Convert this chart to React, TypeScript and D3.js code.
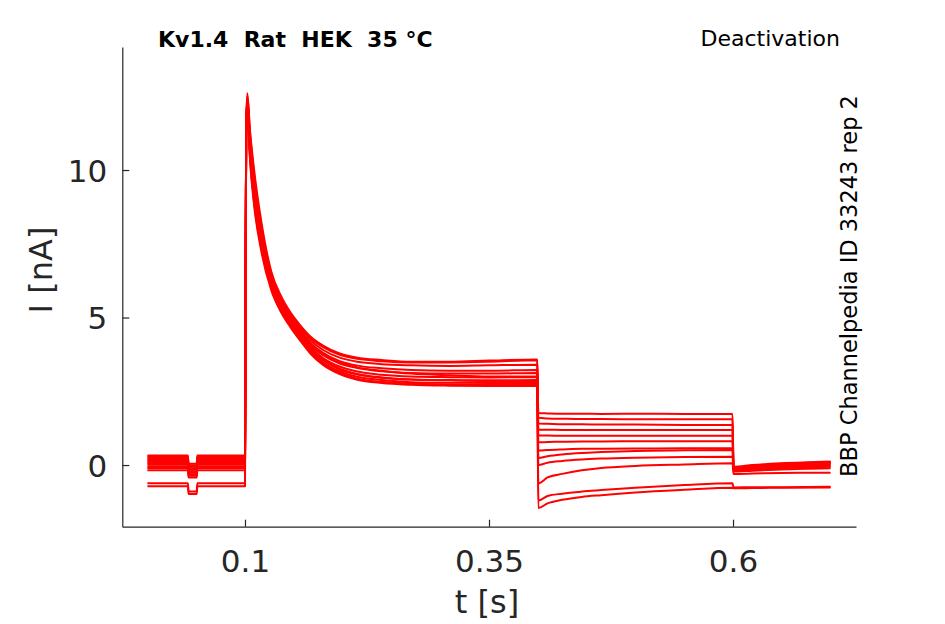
import React, { useRef, useEffect } from 'react';
import * as d3 from 'd3';

// sample times (s) for each protocol segment
const tHold = [0, 0.0415, 0.0422, 0.0505, 0.0512, 0.1];
const tStep = [0.1012, 0.1024, 0.105, 0.109, 0.117, 0.127, 0.137, 0.146, 0.157, 0.167, 0.18, 0.197, 0.215, 0.24, 0.27, 0.31, 0.35, 0.3995];
const tTail = [0.4005, 0.41, 0.425, 0.445, 0.465, 0.5, 0.55, 0.5995];
const tPost = [0.6005, 0.62, 0.65, 0.7];

// holding current before the step and during the short test dip (nA)
const holdLevel = [0.32, 0.27, 0.22, 0.17, 0.12, 0.07, 0.02, -0.04, -0.1, -0.18, -0.62, -0.72];
const dipLevel = [0.04, -0.01, -0.06, -0.11, -0.16, -0.21, -0.26, -0.31, -0.36, -0.42, -0.9, -0.98];

// activation step current (nA) per sweep
const stepCurrent = [
  [11.6, 12.6, 11.4, 10.1, 8.2, 6.55, 5.72, 5.2, 4.72, 4.36, 4.05, 3.78, 3.64, 3.56, 3.5, 3.5, 3.54, 3.58],
  [11.5, 12.5, 11.3, 9.95, 8.05, 6.45, 5.63, 5.12, 4.65, 4.3, 4.0, 3.74, 3.6, 3.52, 3.48, 3.48, 3.5, 3.55],
  [11.5, 12.4, 11.1, 9.8, 7.95, 6.38, 5.56, 5.06, 4.58, 4.22, 3.9, 3.64, 3.5, 3.42, 3.38, 3.36, 3.38, 3.4],
  [11.4, 12.4, 11.0, 9.65, 7.85, 6.3, 5.5, 5.0, 4.52, 4.14, 3.8, 3.52, 3.37, 3.28, 3.22, 3.2, 3.2, 3.22],
  [11.4, 12.3, 10.9, 9.5, 7.7, 6.22, 5.44, 4.95, 4.46, 4.07, 3.72, 3.44, 3.29, 3.18, 3.12, 3.1, 3.1, 3.12],
  [11.3, 12.3, 10.8, 9.4, 7.6, 6.15, 5.38, 4.9, 4.4, 4.0, 3.63, 3.34, 3.17, 3.06, 3.0, 2.98, 2.97, 2.98],
  [11.3, 12.2, 10.7, 9.25, 7.5, 6.1, 5.33, 4.85, 4.35, 3.94, 3.55, 3.24, 3.07, 2.96, 2.9, 2.88, 2.87, 2.88],
  [11.2, 12.2, 10.6, 9.1, 7.4, 6.04, 5.28, 4.8, 4.3, 3.88, 3.48, 3.17, 2.99, 2.88, 2.81, 2.79, 2.78, 2.78],
  [11.2, 12.1, 10.5, 9.0, 7.3, 5.98, 5.23, 4.75, 4.25, 3.82, 3.43, 3.12, 2.93, 2.82, 2.76, 2.73, 2.72, 2.72],
  [11.1, 12.1, 10.4, 8.9, 7.2, 5.92, 5.18, 4.7, 4.2, 3.78, 3.39, 3.08, 2.89, 2.78, 2.72, 2.69, 2.68, 2.68],
  [11.3, 12.3, 10.7, 9.3, 7.55, 6.12, 5.35, 4.87, 4.37, 3.96, 3.58, 3.27, 3.09, 2.97, 2.9, 2.87, 2.85, 2.85],
  [11.4, 12.4, 10.95, 9.6, 7.8, 6.26, 5.47, 4.98, 4.48, 4.1, 3.75, 3.47, 3.31, 3.2, 3.1, 3.04, 3.0, 3.0],
];

// tail current at the deactivation voltages (nA)
const tailCurrent = [
  [1.76, 1.75, 1.74, 1.74, 1.73, 1.74, 1.73, 1.73],
  [1.6, 1.58, 1.57, 1.56, 1.56, 1.55, 1.55, 1.55],
  [1.41, 1.4, 1.38, 1.38, 1.37, 1.37, 1.36, 1.36],
  [1.2, 1.2, 1.19, 1.19, 1.19, 1.19, 1.19, 1.19],
  [1.0, 1.0, 0.99, 0.99, 0.99, 0.99, 0.99, 0.99],
  [0.77, 0.78, 0.79, 0.8, 0.8, 0.81, 0.81, 0.81],
  [0.49, 0.51, 0.53, 0.55, 0.55, 0.56, 0.57, 0.57],
  [0.24, 0.3, 0.36, 0.41, 0.44, 0.48, 0.5, 0.51],
  [0.0, 0.08, 0.14, 0.19, 0.22, 0.25, 0.27, 0.28],
  [-0.62, -0.42, -0.3, -0.18, -0.1, -0.03, 0.02, 0.06],
  [-1.2, -1.05, -0.97, -0.9, -0.85, -0.77, -0.68, -0.62],
  [-1.46, -1.3, -1.18, -1.08, -1.02, -0.93, -0.84, -0.77],
];

// back at holding potential (nA)
const postCurrent = [
  [-0.06, 0.0, 0.06, 0.12],
  [-0.08, -0.02, 0.04, 0.1],
  [-0.1, -0.04, 0.02, 0.08],
  [-0.12, -0.06, 0.0, 0.06],
  [-0.14, -0.08, -0.02, 0.04],
  [-0.16, -0.1, -0.05, 0.01],
  [-0.18, -0.13, -0.08, -0.02],
  [-0.2, -0.16, -0.11, -0.06],
  [-0.22, -0.19, -0.15, -0.11],
  [-0.3, -0.29, -0.27, -0.26],
  [-0.76, -0.75, -0.75, -0.74],
  [-0.79, -0.78, -0.77, -0.76],
];

const xTicks = [0.1, 0.35, 0.6];
const xTickLabels = ['0.1', '0.35', '0.6'];
const yTicks = [0, 5, 10];

const W = 945;
const H = 624;
const axisColor = '#262626';
const font = '"DejaVu Sans", sans-serif';

const App: React.FC = () => {
  const svgRef = useRef<SVGSVGElement>(null);

  useEffect(() => {
    const svg = d3.select(svgRef.current);
    svg.selectAll('*').remove();

    const xScale = d3.scaleLinear().domain([-0.0257, 0.726]).range([122.3, 856]);
    const yScale = d3.scaleLinear().domain([-2.09, 14.17]).range([526.7, 47]);

    const sweeps = holdLevel.map((h, i) => {
      const holdVals = [h, h, dipLevel[i], dipLevel[i], h, h];
      return [
        ...tHold.map((t, j) => [t, holdVals[j]] as [number, number]),
        ...tStep.map((t, j) => [t, stepCurrent[i][j]] as [number, number]),
        ...tTail.map((t, j) => [t, tailCurrent[i][j]] as [number, number]),
        ...tPost.map((t, j) => [t, postCurrent[i][j]] as [number, number]),
      ];
    });

    const line = d3
      .line<[number, number]>()
      .x((d) => xScale(d[0]))
      .y((d) => yScale(d[1]))
      .curve(d3.curveMonotoneX);

    svg
      .append('g')
      .selectAll('path')
      .data(sweeps)
      .join('path')
      .attr('fill', 'none')
      .attr('stroke', '#ff0000')
      .attr('stroke-width', 2)
      .attr('stroke-linejoin', 'round')
      .attr('d', line);

    // axes (matlab style: inward ticks, box off)
    const xAxis = svg
      .append('g')
      .attr('transform', `translate(0,${yScale.range()[0]})`)
      .call(d3.axisBottom(xScale).tickValues(xTicks).tickSizeInner(-7).tickSizeOuter(0).tickFormat((d, i) => xTickLabels[i]));
    xAxis.select('.domain').attr('stroke', axisColor).attr('stroke-width', 1.2);
    xAxis.selectAll('.tick line').attr('stroke', axisColor).attr('stroke-width', 1.2);
    xAxis
      .selectAll('.tick text')
      .attr('y', 45)
      .attr('dy', 0)
      .attr('fill', axisColor)
      .attr('font-size', 31)
      .attr('font-family', font);

    const yAxis = svg
      .append('g')
      .attr('transform', `translate(${xScale.range()[0]},0)`)
      .call(d3.axisLeft(yScale).tickValues(yTicks).tickSizeInner(-7).tickSizeOuter(0).tickFormat(d3.format('d')));
    yAxis.select('.domain').attr('stroke', axisColor).attr('stroke-width', 1.2);
    yAxis.selectAll('.tick line').attr('stroke', axisColor).attr('stroke-width', 1.2);
    yAxis
      .selectAll('.tick text')
      .attr('x', -15)
      .attr('dy', '0.36em')
      .attr('fill', axisColor)
      .attr('font-size', 31)
      .attr('font-family', font);

    svg
      .append('text')
      .attr('x', 487)
      .attr('y', 613)
      .attr('text-anchor', 'middle')
      .attr('fill', axisColor)
      .attr('font-size', 32)
      .attr('font-family', font)
      .text('t [s]');

    svg
      .append('text')
      .attr('transform', 'translate(52,270) rotate(-90)')
      .attr('text-anchor', 'middle')
      .attr('fill', axisColor)
      .attr('font-size', 32)
      .attr('font-family', font)
      .text('I [nA]');

    svg
      .append('text')
      .attr('x', 158)
      .attr('y', 47)
      .attr('fill', '#000')
      .attr('font-size', 22)
      .attr('font-weight', 'bold')
      .attr('font-family', font)
      .style('white-space', 'pre')
      .text('Kv1.4  Rat  HEK  35 °C');

    svg
      .append('text')
      .attr('x', 840)
      .attr('y', 46)
      .attr('text-anchor', 'end')
      .attr('fill', '#000')
      .attr('font-size', 22)
      .attr('font-family', font)
      .text('Deactivation');

    svg
      .append('text')
      .attr('transform', 'translate(857,286) rotate(-90)')
      .attr('text-anchor', 'middle')
      .attr('fill', '#000')
      .attr('font-size', 22.5)
      .attr('font-family', font)
      .text('BBP Channelpedia ID 33243 rep 2');
  }, []);

  return (
    <div style={{ width: W, height: H }}>
      <style>{'body{margin:0}'}</style>
      <svg ref={svgRef} width={W} height={H} style={{ display: 'block', background: '#fff' }} />
    </div>
  );
};

export default App;
